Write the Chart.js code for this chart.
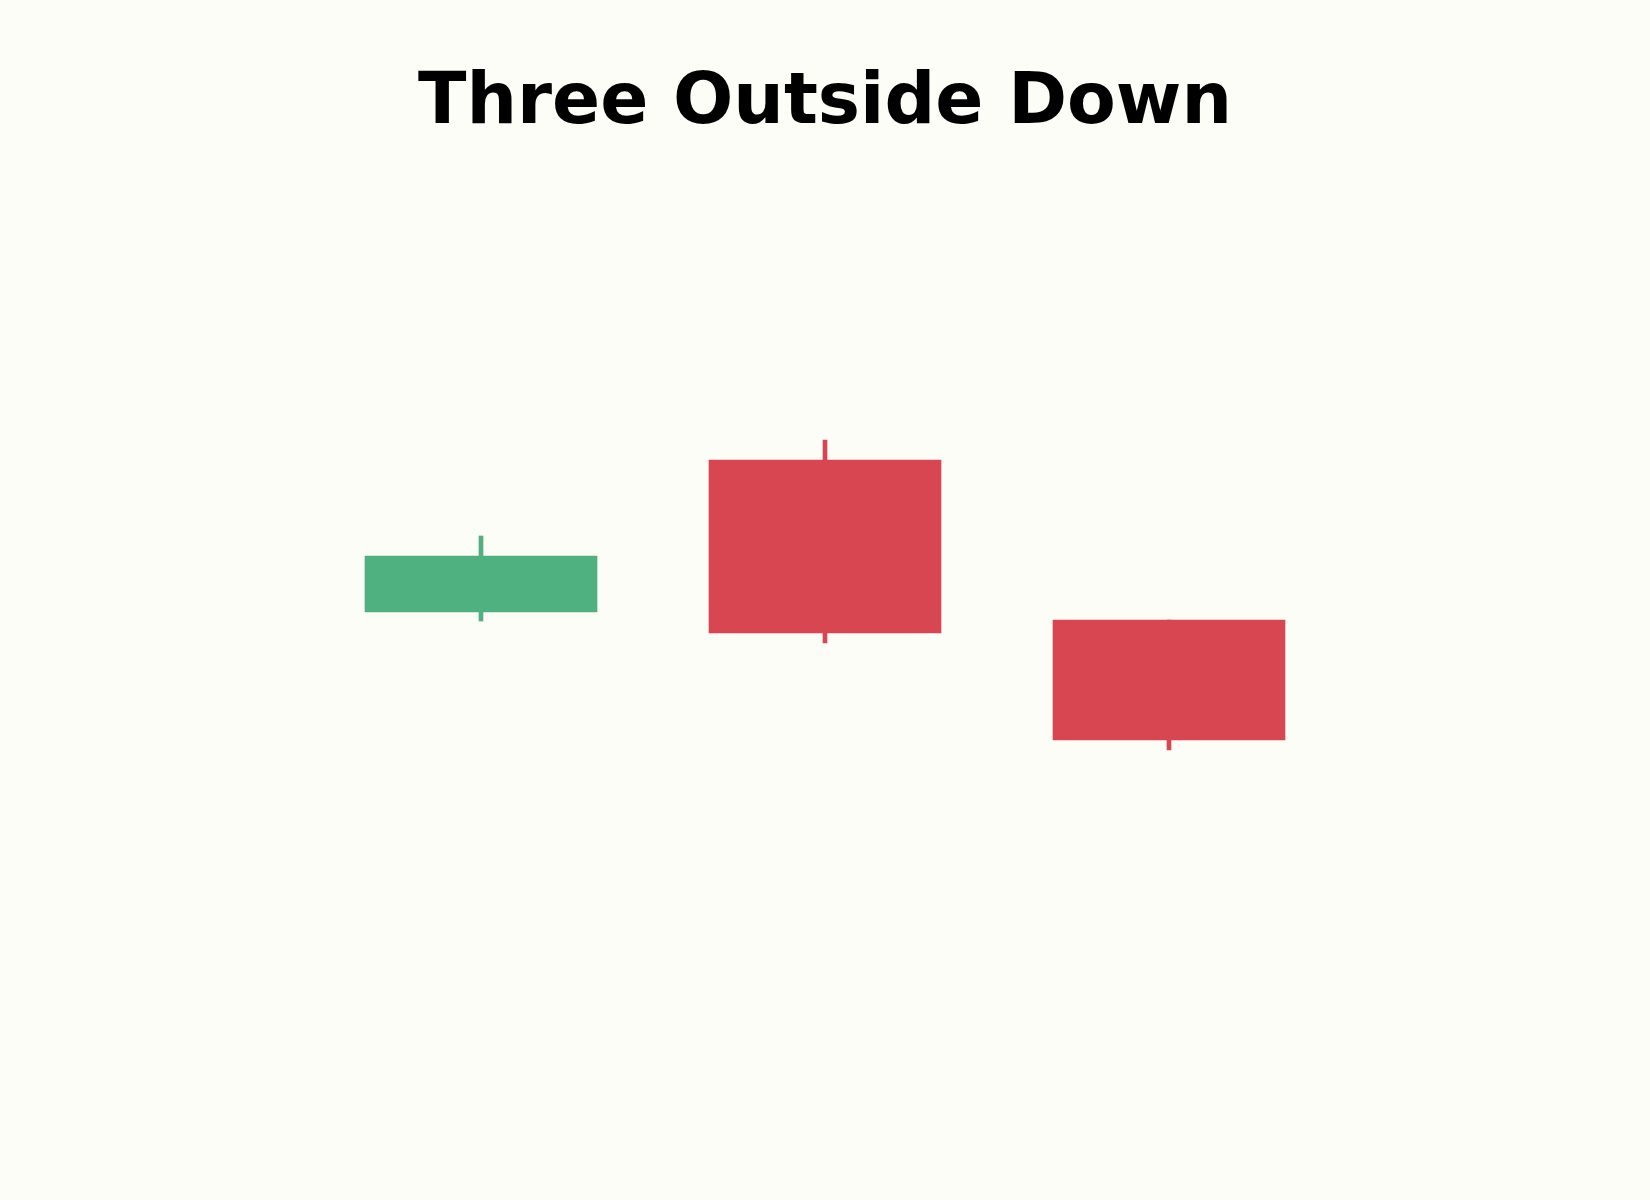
<!DOCTYPE html>
<html>
<head>
<meta charset="utf-8">
<script src="https://cdn.jsdelivr.net/npm/chart.js@4/dist/chart.umd.min.js"></script>
<style>
  html, body { margin: 0; padding: 0; background: #fdfdf8; }
  #wrap { width: 1650px; height: 1200px; }
</style>
</head>
<body>
<div id="wrap"><canvas id="c" width="1650" height="1200"></canvas></div>
<script>
const categories = ["Day 1", "Day 2", "Day 3"];
const openValues  = [19.4, 27.0, 19.0];
const highValues  = [23.2, 28.0, 19.0];
const lowValues   = [18.95, 17.85, 12.5];
const closeValues = [22.2, 18.35, 13.0];
const titleText = "Three Outside Down";

const upColor = "#4fb080";
const downColor = "#d84651";

const bodies = categories.map((_, i) => [openValues[i], closeValues[i]]);
const wicks = categories.map((_, i) => [lowValues[i], highValues[i]]);
const colors = categories.map((_, i) => closeValues[i] >= openValues[i] ? upColor : downColor);

new Chart(document.getElementById('c'), {
  type: 'bar',
  data: {
    labels: categories,
    datasets: [
      {
        label: 'Body',
        data: bodies,
        backgroundColor: colors,
        borderWidth: 0,
        barThickness: 232,
        grouped: false,
        order: 1
      },
      {
        label: 'Wick',
        data: wicks,
        backgroundColor: colors,
        borderWidth: 0,
        barThickness: 4,
        grouped: false,
        order: 2
      }
    ]
  },
  options: {
    responsive: false,
    devicePixelRatio: 1,
    animation: false,
    layout: { padding: { left: 309, right: 309, top: 0, bottom: 200 } },
    plugins: {
      legend: { display: false },
      tooltip: { enabled: false },
      title: {
        display: true,
        text: titleText,
        color: '#000000',
        font: { family: 'DejaVu Sans', weight: 'bold', size: 71, lineHeight: 1.2 },
        padding: { top: 62, bottom: 52.8 }
      }
    },
    scales: {
      x: { display: false, offset: true, grid: { display: false } },
      y: { display: false, min: 0, max: 40, grid: { display: false } }
    }
  }
});
</script>
</body>
</html>
